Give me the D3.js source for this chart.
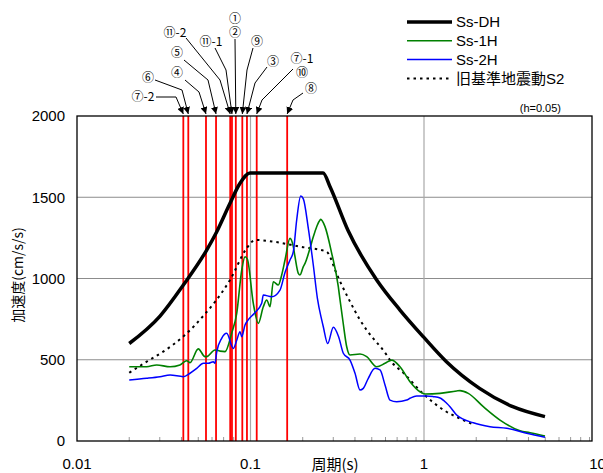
<!DOCTYPE html>
<html>
<head>
<meta charset="utf-8">
<script src="https://cdn.jsdelivr.net/npm/d3@7"></script>
<style>
  body { margin: 0; background: #fff; }
  text { font-family: "Liberation Sans", "Noto Sans CJK JP", sans-serif; }
</style>
</head>
<body>
<div id="chart"></div>
<script>
// period (s), acceleration (cm/s/s)
const ssDH = [[0.02,600],[0.0301,769],[0.041,960],[0.0559,1175],[0.0639,1288],[0.0762,1463],[0.087,1586],[0.0993,1650],[0.262,1650],[0.2873,1565],[0.365,1295],[0.5338,991],[0.7271,806],[0.99,642],[1.347,488],[2.09,324],[3.25,211],[4.98,150]];

const ss1H = [[0.02,457],[0.0252,457],[0.0288,468],[0.0344,457],[0.0392,468],[0.0429,494],[0.0448,482],[0.05,567],[0.0547,519],[0.0559,519],[0.0624,560],[0.0667,553],[0.0713,550],[0.0779,663],[0.0833,786],[0.089,1052],[0.093,1134],[0.0959,1120],[0.1038,847],[0.1109,724],[0.1185,826],[0.124,868],[0.1296,826],[0.1353,980],[0.1446,960],[0.1513,1022],[0.1581,1114],[0.1689,1247],[0.1765,1196],[0.1805,1134],[0.1886,1032],[0.1929,1022],[0.2016,1073],[0.2062,1093],[0.2203,1186],[0.2301,1257],[0.2516,1360],[0.2539,1364],[0.2688,1319],[0.2938,1155],[0.3207,950],[0.3281,868],[0.3427,720],[0.3585,580],[0.3746,529],[0.4277,535],[0.4675,519],[0.5339,457],[0.5961,478],[0.6514,498],[0.7272,457],[0.8305,365],[0.9483,303],[1.0134,289],[1.237,293],[1.543,308],[1.612,310],[1.8,293],[2.197,211],[2.742,129],[3.575,63],[4.083,51],[4.983,31]];

const ss2H = [[0.02,375],[0.0252,386],[0.0301,396],[0.0344,406],[0.041,396],[0.0448,417],[0.049,447],[0.0535,478],[0.0571,478],[0.061,488],[0.0624,478],[0.0639,550],[0.0682,632],[0.0729,663],[0.0796,570],[0.0833,620],[0.087,673],[0.089,642],[0.093,714],[0.097,745],[0.105,785],[0.116,847],[0.1185,898],[0.1325,888],[0.1479,929],[0.1581,1037],[0.1689,1114],[0.1765,1165],[0.1846,1360],[0.1947,1508],[0.2016,1490],[0.2153,1310],[0.2301,1083],[0.243,878],[0.2573,745],[0.2628,703],[0.2786,600],[0.3001,700],[0.322,642],[0.3427,540],[0.3746,498],[0.4003,417],[0.4277,314],[0.4469,324],[0.4775,386],[0.522,447],[0.5578,437],[0.5961,345],[0.6368,252],[0.6961,242],[0.7949,252],[0.8305,263],[0.9076,277],[1.0366,277],[1.1314,273],[1.237,265],[1.351,232],[1.412,211],[1.543,160],[1.924,112],[2.401,88],[2.998,78],[3.908,48],[4.983,23]];

const oldS2 = [[0.02,420],[0.0252,488],[0.0314,550],[0.0419,652],[0.0547,782],[0.0625,857],[0.0762,991],[0.0951,1186],[0.1063,1237],[0.1352,1227],[0.1924,1196],[0.275,1165],[0.2873,1134],[0.3075,1052],[0.3746,858],[0.4277,745],[0.4675,683],[0.6095,529],[0.6368,498],[0.7646,417],[0.99,290],[1.298,191],[1.685,129],[1.968,98]];

// natural periods of the marked facilities
const facilityPeriods = [0.041,0.0438,0.0554,0.0633,0.0764,0.0782,0.0823,0.0897,0.0954,0.1086,0.1627];
const facilityLabels = [["⑦-2"],["⑥"],["④"],["⑤"],["⑪-2"],["⑪-1"],["①","②"],["⑨"],["③"],["⑦-1","⑩"],["⑧"]];

const xTicks = [0.01, 0.1, 1, 10];
const xTickLabels = ["0.01", "0.1", "1", "10"];
const yTicks = [0, 500, 1000, 1500, 2000];

const series = [
  { name: "Ss-DH", data: ssDH, color: "#000", width: 3.5, dash: null },
  { name: "Ss-1H", data: ss1H, color: "#008000", width: 1.6, dash: null },
  { name: "Ss-2H", data: ss2H, color: "#0000ff", width: 1.5, dash: null },
  { name: "旧基準地震動S2", data: oldS2, color: "#000", width: 2, dash: "2.5,4" }
];

// label placement: text centre, then leader elbows (pixels)
const labelLayout = [
  { tx: 143, ty: 97, pts: [[156,97],[176,97]] },
  { tx: 148, ty: 78, pts: [[155,80],[182,90]] },
  { tx: 177, ty: 73, pts: [[185,80],[199,92]] },
  { tx: 177, ty: 53, pts: [[184,60],[208,80]] },
  { tx: 175, ty: 33, pts: [[186,38],[220,80]] },
  { tx: 211, ty: 42, pts: [[215,48],[226,70]] },
  { tx: 235, ty: 18.5, pts: [[235,39]] },
  { tx: 257, ty: 42, pts: [[253,48],[247,70]] },
  { tx: 273, ty: 62, pts: [[267,67],[255,83]] },
  { tx: 302, ty: 58.5, pts: [[293,69],[262,100]] },
  { tx: 311, ty: 89, pts: [[303,93],[293,100]] }
];

const W = 603, H = 473;
const plotLeft = 77, plotRight = 592, plotTop = 116, plotBottom = 441;

const x = d3.scaleLog().domain([0.01, 10]).range([plotLeft, 597.5]);
const y = d3.scaleLinear().domain([0, 2000]).range([plotBottom, plotTop]);

const svg = d3.select("#chart").append("svg")
  .attr("width", W).attr("height", H);

svg.append("defs").append("marker")
  .attr("id", "arrow")
  .attr("viewBox", "0 0 10 10")
  .attr("refX", 10).attr("refY", 5)
  .attr("markerWidth", 7).attr("markerHeight", 7)
  .attr("markerUnits", "userSpaceOnUse")
  .attr("orient", "auto")
  .append("path").attr("d", "M0,0 L10,5 L0,10 z").attr("fill", "#000");

// grid
svg.append("g").selectAll("line").data(yTicks.filter(d => d > 0 && d < 2000)).join("line")
  .attr("x1", plotLeft).attr("x2", plotRight)
  .attr("y1", d => y(d)).attr("y2", d => y(d))
  .attr("stroke", "#8c8c8c").attr("stroke-width", 1);

svg.append("g").selectAll("line").data([0.1, 1]).join("line")
  .attr("x1", d => x(d)).attr("x2", d => x(d))
  .attr("y1", plotTop).attr("y2", plotBottom)
  .attr("stroke", "#a8a8a8").attr("stroke-width", 1.2);

// minor ticks
const minor = [];
[0.01, 0.1, 1].forEach(dec => { for (let k = 2; k <= 9; k++) minor.push(dec * k); });
svg.append("g").selectAll("line").data(minor).join("line")
  .attr("x1", d => x(d)).attr("x2", d => x(d))
  .attr("y1", plotBottom).attr("y2", plotBottom - 4)
  .attr("stroke", "#999").attr("stroke-width", 1);

// red lines
svg.append("g").selectAll("line").data(facilityPeriods).join("line")
  .attr("x1", d => x(d)).attr("x2", d => x(d))
  .attr("y1", plotTop).attr("y2", plotBottom)
  .attr("stroke", "#ff0000").attr("stroke-width", 1.8);

// curves
const line = d3.line()
  .x(d => x(d[0]))
  .y(d => y(d[1]))
  .curve(d3.curveMonotoneX);

const order = [series[3], series[1], series[2], series[0]];
svg.append("g").selectAll("path").data(order).join("path")
  .attr("d", d => line(d.data))
  .attr("fill", "none")
  .attr("stroke", d => d.color)
  .attr("stroke-width", d => d.width)
  .attr("stroke-dasharray", d => d.dash)
  .attr("stroke-linejoin", "round");

// frame
svg.append("rect")
  .attr("x", plotLeft).attr("y", plotTop)
  .attr("width", plotRight - plotLeft).attr("height", plotBottom - plotTop)
  .attr("fill", "none").attr("stroke", "#000").attr("stroke-width", 1.3);

// axis labels
svg.append("g").selectAll("text").data(yTicks).join("text")
  .attr("x", 65).attr("y", d => y(d))
  .attr("dy", "0.35em").attr("text-anchor", "end")
  .attr("font-size", 15).text(d => d);

svg.append("g").selectAll("text").data(xTicks).join("text")
  .attr("x", d => x(d)).attr("y", 464)
  .attr("dy", "0.35em").attr("text-anchor", "middle")
  .attr("font-size", 15).text((d, i) => xTickLabels[i]);

svg.append("text")
  .attr("x", 335).attr("y", 465).attr("dy", "0.35em")
  .attr("text-anchor", "middle").attr("font-size", 15)
  .style("font-family", "'Noto Sans CJK JP', sans-serif")
  .text("周期(s)");

svg.append("text")
  .attr("transform", "translate(18,275) rotate(-90)")
  .attr("dy", "0.35em").attr("text-anchor", "middle").attr("font-size", 14)
  .style("font-family", "'Noto Sans CJK JP', sans-serif")
  .text("加速度(cm/s/s)");

svg.append("text")
  .attr("x", 561).attr("y", 108).attr("dy", "0.35em")
  .attr("text-anchor", "end").attr("font-size", 11)
  .text("(h=0.05)");

// legend
const legend = svg.append("g").selectAll("g").data(series).join("g")
  .attr("transform", (d, i) => `translate(407, ${22 + i * 18.8})`);
legend.append("line")
  .attr("x1", 0).attr("x2", 45)
  .attr("stroke", d => d.color)
  .attr("stroke-width", d => d.width)
  .attr("stroke-dasharray", d => d.dash);
legend.append("text")
  .attr("x", 49).attr("dy", "0.35em").attr("font-size", 15)
  .text(d => d.name);

// facility labels with leaders
const ann = svg.append("g");
labelLayout.forEach((l, i) => {
  const label = ann.append("text")
    .attr("x", l.tx).attr("y", l.ty)
    .attr("text-anchor", "middle")
    .attr("font-size", 12)
    .style("font-family", "'Noto Sans CJK JP', 'DejaVu Sans', sans-serif");
  facilityLabels[i].forEach((t, j) => {
    label.append("tspan")
      .attr("x", l.tx)
      .attr("dy", j === 0 ? "0.35em" : 14)
      .text(t);
  });
  const pts = l.pts.concat([[x(facilityPeriods[i]), plotTop - 2]]);
  ann.append("path")
    .attr("d", d3.line()(pts))
    .attr("fill", "none").attr("stroke", "#000").attr("stroke-width", 1)
    .attr("marker-end", "url(#arrow)");
});
</script>
</body>
</html>
